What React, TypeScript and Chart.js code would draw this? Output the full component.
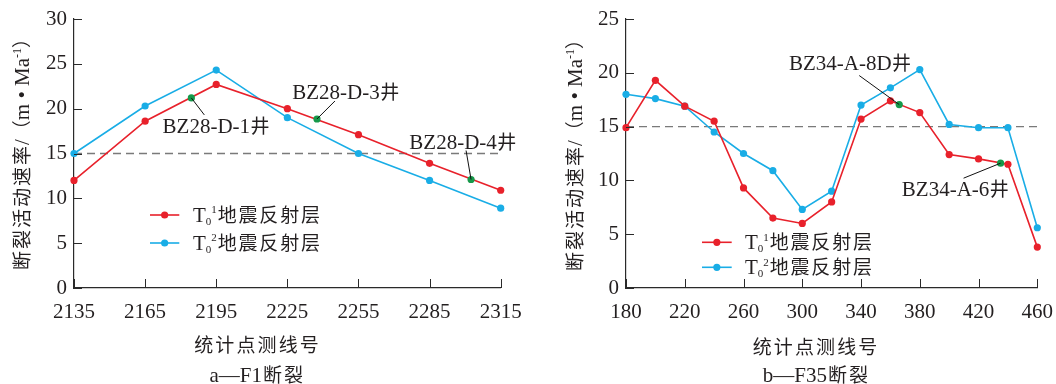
import React, { useEffect, useRef } from 'react';
import { Chart, registerables } from 'chart.js';
Chart.register(...registerables);

// ---------- data ----------
const linesA = [2135, 2165, 2195, 2225, 2255, 2285, 2315];
const t01A = [12.0, 18.6, 22.7, 20.0, 17.1, 13.9, 10.9];
const t02A = [15.0, 20.3, 24.3, 19.0, 15.0, 12.0, 8.9];
const xTicksA = [2135, 2165, 2195, 2225, 2255, 2285, 2315];
const yTicksA = [0, 5, 10, 15, 20, 25, 30];
const wellNamesA = ['BZ28-D-1', 'BZ28-D-3', 'BZ28-D-4'];
const wellLinesA = [2184.5, 2237.5, 2302.5];
const wellRatesA = [21.2, 18.85, 12.1];

const linesB = [180, 200, 220, 240, 260, 280, 300, 320, 340, 360, 380, 400, 420, 440, 460];
const t01B = [14.9, 19.3, 16.9, 15.5, 9.3, 6.5, 6.0, 8.0, 15.7, 17.4, 16.3, 12.4, 12.0, 11.5, 3.8];
const t02B = [18.0, 17.6, 16.9, 14.5, 12.5, 10.9, 7.3, 9.0, 17.0, 18.6, 20.3, 15.2, 14.9, 14.9, 5.6];
const xTicksB = [180, 220, 260, 300, 340, 380, 420, 460];
const yTicksB = [0, 5, 10, 15, 20, 25];
const wellNamesB = ['BZ34-A-8D', 'BZ34-A-6'];
const wellLinesB = [366, 435];
const wellRatesB = [17.05, 11.6];

const threshold = 15;
const wellSuffix = '井';
const series1Sup = '1';
const series2Sup = '2';
const legendText = '地震反射层';
const yTitleMain = '断裂活动速率';
const xTitle = '统计点测线号';
const subtitleA = ['a—F1', '断裂'];
const subtitleB = ['b—F35', '断裂'];

// ---------- styles ----------
const SERIF = "'Liberation Serif', 'Times New Roman', serif";
const CJK = "'Noto Sans CJK SC', 'Noto Sans CJK JP', sans-serif";
const TEXT = '#231f20';
const AXIS = '#2a2a2a';
const RED = '#e8212b';
const BLUE = '#19ade6';
const GREEN = '#16994a';
const DASH = '#7a7a7a';
const H = 384;

type Piece = { t: string; font: string; pitch?: number; dy?: number };

function pieceWidth(ctx: CanvasRenderingContext2D, p: Piece) {
  ctx.font = p.font;
  return p.pitch ? p.pitch * Array.from(p.t).length : ctx.measureText(p.t).width;
}

function drawRich(ctx: CanvasRenderingContext2D, pieces: Piece[], x: number, baseline: number, align: 'left' | 'center') {
  const total = pieces.reduce((s, p) => s + pieceWidth(ctx, p), 0);
  let cx = align === 'center' ? x - total / 2 : x;
  ctx.textBaseline = 'alphabetic';
  for (const p of pieces) {
    ctx.font = p.font;
    const by = baseline + (p.dy || 0);
    if (p.pitch) {
      ctx.textAlign = 'center';
      const chars = Array.from(p.t);
      chars.forEach((ch, i) => ctx.fillText(ch, cx + p.pitch! * (i + 0.5), by));
      cx += p.pitch * chars.length;
    } else {
      ctx.textAlign = 'left';
      ctx.fillText(p.t, cx, by);
      cx += ctx.measureText(p.t).width;
    }
  }
}

type WellLayout = { lx: number; ly: number; tx: number; ty: number };

type PanelCfg = {
  left: number;
  width: number;
  area: { left: number; right: number; top: number; bottom: number };
  lines: number[];
  t01: number[];
  t02: number[];
  xTicks: number[];
  yTicks: number[];
  wellNames: string[];
  wellLines: number[];
  wellRates: number[];
  wellLayout: WellLayout[];
  legend: { x0: number; x1: number; y1: number; y2: number; textX: number };
  yTitle: { x: number; y: number };
  xTitlePos: { x: number; y: number };
  subtitle: string[];
  subPos: { x: number; y: number };
};

const panelA: PanelCfg = {
  left: 0,
  width: 530,
  area: { left: 74, right: 500.7, top: 19, bottom: 288 },
  lines: linesA,
  t01: t01A,
  t02: t02A,
  xTicks: xTicksA,
  yTicks: yTicksA,
  wellNames: wellNamesA,
  wellLines: wellLinesA,
  wellRates: wellRatesA,
  wellLayout: [
    { lx: 13, ly: 17, tx: 25, ty: 28 },
    { lx: 18, ly: -18, tx: 29, ty: -27 },
    { lx: -5, ly: -29, tx: -8, ty: -38 },
  ],
  legend: { x0: 150, x1: 179.3, y1: 215, y2: 243, textX: 193 },
  yTitle: { x: 22, y: 150 },
  xTitlePos: { x: 256.5, y: 345 },
  subtitle: subtitleA,
  subPos: { x: 256.7, y: 375 },
};

const panelB: PanelCfg = {
  left: 530,
  width: 526,
  area: { left: 96, right: 507.3, top: 19, bottom: 288 },
  lines: linesB,
  t01: t01B,
  t02: t02B,
  xTicks: xTicksB,
  yTicks: yTicksB,
  wellNames: wellNamesB,
  wellLines: wellLinesB,
  wellRates: wellRatesB,
  wellLayout: [
    { lx: -40, ly: -29, tx: -49, ty: -42 },
    { lx: -37, ly: 15, tx: -45, ty: 26 },
  ],
  legend: { x0: 172, x1: 201.7, y1: 242.3, y2: 267.3, textX: 215 },
  yTitle: { x: 45, y: 151 },
  xTitlePos: { x: 285, y: 346.7 },
  subtitle: subtitleB,
  subPos: { x: 285.8, y: 375 },
};

function makeDeco(cfg: PanelCfg) {
  return {
    id: 'deco',
    afterDraw(chart: any) {
      const ctx: CanvasRenderingContext2D = chart.ctx;
      const { left, bottom } = chart.chartArea;
      const xs = chart.scales.x;
      const ys = chart.scales.y;
      ctx.save();
      // inward tick marks
      ctx.strokeStyle = AXIS;
      ctx.lineWidth = 1;
      ctx.beginPath();
      xs.ticks.forEach((t: any) => {
        const px = Math.round(xs.getPixelForValue(t.value)) + 0.5;
        ctx.moveTo(px, bottom);
        ctx.lineTo(px, bottom - 9);
      });
      ys.ticks.forEach((t: any) => {
        const py = Math.round(ys.getPixelForValue(t.value)) + 0.5;
        ctx.moveTo(left, py);
        ctx.lineTo(left + 8, py);
      });
      ctx.stroke();

      // well leaders + labels
      ctx.fillStyle = TEXT;
      cfg.wellNames.forEach((name, i) => {
        const lay = cfg.wellLayout[i];
        const px = xs.getPixelForValue(cfg.wellLines[i]);
        const py = ys.getPixelForValue(cfg.wellRates[i]);
        ctx.strokeStyle = '#111';
        ctx.lineWidth = 1;
        ctx.beginPath();
        ctx.moveTo(px, py);
        ctx.lineTo(px + lay.lx, py + lay.ly);
        ctx.stroke();
        drawRich(
          ctx,
          [
            { t: name, font: `21px ${SERIF}` },
            { t: wellSuffix, font: `19px ${CJK}`, pitch: 20 },
          ],
          px + lay.tx,
          py + lay.ty + 7,
          'center'
        );
      });

      // legend
      const lg = cfg.legend;
      const rows = [
        { y: lg.y1, color: RED, sup: series1Sup },
        { y: lg.y2, color: BLUE, sup: series2Sup },
      ];
      rows.forEach((r) => {
        ctx.strokeStyle = r.color;
        ctx.lineWidth = 1.6;
        ctx.beginPath();
        ctx.moveTo(lg.x0, r.y);
        ctx.lineTo(lg.x1, r.y);
        ctx.stroke();
        ctx.fillStyle = r.color;
        ctx.beginPath();
        ctx.arc((lg.x0 + lg.x1) / 2, r.y, 3.6, 0, Math.PI * 2);
        ctx.fill();
        ctx.fillStyle = TEXT;
        drawRich(
          ctx,
          [
            { t: 'T', font: `21px ${SERIF}` },
            { t: '0', font: `11px ${SERIF}`, dy: 3.3 },
            { t: r.sup, font: `11px ${SERIF}`, dy: -8.4 },
            { t: legendText, font: `19px ${CJK}`, pitch: 20.8 },
          ],
          lg.textX,
          r.y + 6.7,
          'left'
        );
      });

      // y title (rotated)
      ctx.save();
      ctx.translate(cfg.yTitle.x, cfg.yTitle.y);
      ctx.rotate(-Math.PI / 2);
      ctx.fillStyle = TEXT;
      drawRich(
        ctx,
        [
          { t: yTitleMain, font: `19px ${CJK}`, pitch: 21 },
          { t: '/', font: `21px ${SERIF}` },
          { t: '（', font: `19px ${CJK}`, pitch: 19 },
          { t: 'm • Ma', font: `21px ${SERIF}` },
          { t: '-1', font: `12px ${SERIF}`, dy: -8 },
          { t: '）', font: `19px ${CJK}`, pitch: 19 },
        ],
        0,
        7,
        'center'
      );
      ctx.restore();

      // x title
      ctx.fillStyle = TEXT;
      drawRich(ctx, [{ t: xTitle, font: `19px ${CJK}`, pitch: 21.1 }], cfg.xTitlePos.x, cfg.xTitlePos.y + 7, 'center');
      // subtitle
      drawRich(
        ctx,
        [
          { t: cfg.subtitle[0], font: `21px ${SERIF}` },
          { t: cfg.subtitle[1], font: `19px ${CJK}`, pitch: 21 },
        ],
        cfg.subPos.x,
        cfg.subPos.y + 7,
        'center'
      );
      ctx.restore();
    },
  };
}

function FaultChart({ cfg }: { cfg: PanelCfg }) {
  const ref = useRef<HTMLCanvasElement | null>(null);
  useEffect(() => {
    if (!ref.current) return;
    const a = cfg.area;
    const pointStyle = (color: string) => ({
      borderColor: color,
      backgroundColor: color,
      pointBackgroundColor: color,
      pointBorderColor: color,
      pointBorderWidth: 0,
      pointRadius: 3.6,
      borderWidth: 1.6,
      tension: 0,
      clip: false as any,
    });
    const chart = new Chart(ref.current, {
      type: 'line',
      data: {
        datasets: [
          {
            label: 'wells',
            data: cfg.wellLines.map((x, i) => ({ x, y: cfg.wellRates[i] })),
            showLine: false,
            ...pointStyle(GREEN),
          },
          {
            label: 'T01',
            data: cfg.lines.map((x, i) => ({ x, y: cfg.t01[i] })),
            ...pointStyle(RED),
          },
          {
            label: 'T02',
            data: cfg.lines.map((x, i) => ({ x, y: cfg.t02[i] })),
            ...pointStyle(BLUE),
          },
          {
            label: 'threshold',
            data: [
              { x: cfg.xTicks[0], y: threshold },
              { x: cfg.xTicks[cfg.xTicks.length - 1], y: threshold },
            ],
            borderColor: DASH,
            borderDash: [8, 5],
            borderWidth: 1.4,
            pointRadius: 0,
            clip: false as any,
          },
        ],
      },
      options: {
        responsive: false,
        maintainAspectRatio: false,
        animation: false,
        layout: { padding: { left: 0, top: a.top, right: cfg.width - a.right, bottom: 0 } },
        plugins: { legend: { display: false }, tooltip: { enabled: false } },
        scales: {
          x: {
            type: 'linear',
            min: cfg.xTicks[0],
            max: cfg.xTicks[cfg.xTicks.length - 1],
            grid: { display: false, drawTicks: false },
            border: { display: true, color: AXIS, width: 1.2 },
            ticks: {
              font: { family: SERIF, size: 21 },
              color: TEXT,
              padding: 12,
              maxRotation: 0,
              autoSkip: false,
              callback: (v: any) => String(v),
            },
            afterBuildTicks: (s: any) => {
              s.ticks = cfg.xTicks.map((v) => ({ value: v }));
            },
            afterFit: (s: any) => {
              s.height = H - a.bottom;
              s.paddingLeft = 0;
              s.paddingRight = 0;
            },
          },
          y: {
            type: 'linear',
            min: cfg.yTicks[0],
            max: cfg.yTicks[cfg.yTicks.length - 1],
            grid: { display: false, drawTicks: false },
            border: { display: true, color: AXIS, width: 1.2 },
            ticks: {
              font: { family: SERIF, size: 21 },
              color: TEXT,
              padding: 7,
              callback: (v: any) => String(v),
            },
            afterBuildTicks: (s: any) => {
              s.ticks = cfg.yTicks.map((v) => ({ value: v }));
            },
            afterFit: (s: any) => {
              s.width = a.left;
              s.paddingTop = 0;
              s.paddingBottom = 0;
            },
          },
        },
      },
      plugins: [makeDeco(cfg) as any],
    });
    return () => chart.destroy();
  }, [cfg]);
  return (
    <canvas
      ref={ref}
      width={cfg.width}
      height={H}
      style={{ position: 'absolute', left: cfg.left, top: 0, width: cfg.width, height: H }}
    />
  );
}

export default function App() {
  useEffect(() => {
    document.body.style.margin = '0';
  }, []);
  return (
    <div style={{ position: 'absolute', left: 0, top: 0, width: 1056, height: H, background: '#fff' }}>
      <FaultChart cfg={panelA} />
      <FaultChart cfg={panelB} />
    </div>
  );
}
